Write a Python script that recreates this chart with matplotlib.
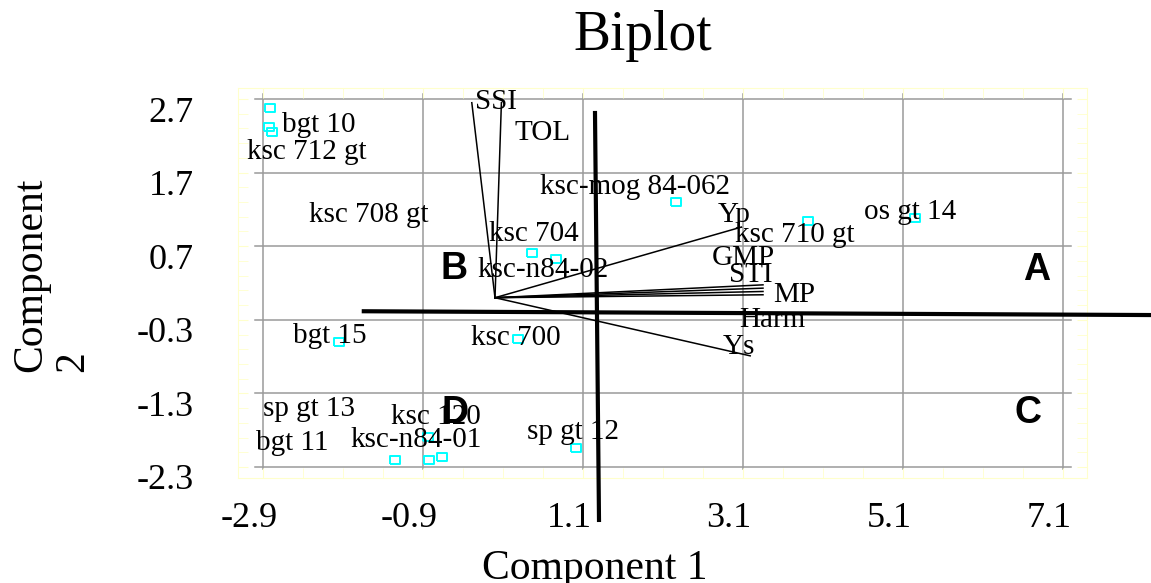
import matplotlib
matplotlib.use("Agg")
import matplotlib.pyplot as plt
import matplotlib.transforms as mtransforms
from matplotlib.ticker import MultipleLocator

plt.rcParams['font.family'] = ['Liberation Serif', 'DejaVu Serif']

# genotype scores (cyan squares)
score_x = [-2.81, -2.825, -2.79, 2.26, 3.91, 5.25, 0.46, 0.76, 0.29, -1.95, -1.25, -0.83, -0.66, -0.84, 1.01]
score_y = [2.58, 2.32, 2.25, 1.30, 1.04, 1.08, 0.61, 0.52, -0.56, -0.60, -2.20, -2.20, -2.17, -1.89, -2.04]

# genotype names and where their text sits
genotypes = ["bgt 10", "ksc 712 gt", "ksc 708 gt", "ksc-mog 84-062", "ksc 704", "ksc-n84-02",
             "ksc 710 gt", "os gt 14", "bgt 15", "ksc 700", "sp gt 13", "ksc 120",
             "ksc-n84-01", "bgt 11", "sp gt 12"]
geno_tx = [-2.66, -3.10, -2.325, 0.56, -0.075, -0.225, 3.0, 4.61, -2.525, -0.30, -2.90, -1.30, -1.81, -2.99, 0.40]
geno_ty = [2.35, 1.98, 1.12, 1.50, 0.86, 0.37, 0.85, 1.16, -0.52, -0.545, -1.51, -1.62, -1.93, -1.97, -1.82]

# index loadings (vectors from origin)
indices = ["SSI", "TOL", "Yp", "GMP", "STI", "MP", "Harm", "Ys"]
vec_x = [-0.29, 0.08, 3.08, 3.35, 3.35, 3.35, 3.35, 3.19]
vec_y = [2.65, 2.65, 0.96, 0.175, 0.13, 0.085, 0.04, -0.79]
idx_tx = [-0.25, 0.25, 2.79, 2.71, 2.925, 3.475, 3.05, 2.85]
idx_ty = [2.66, 2.24, 1.12, 0.54, 0.31, 0.04, -0.30, -0.67]

# quadrant letters
quadrants = ["A", "B", "C", "D"]
quad_x = [6.775, -0.51, 6.66, -0.50]
quad_y = [0.38, 0.39, -1.56, -1.57]

# rotated reference axes
ref_h_x = [-1.64, 8.3]
ref_h_y = [-0.184, -0.236]
ref_v_x = [1.25, 1.30]
ref_v_y = [2.51, -3.02]

xticks = [-2.9, -0.9, 1.1, 3.1, 5.1, 7.1]
xtick_labels = ["-2.9", "-0.9", "1.1", "3.1", "5.1", "7.1"]
yticks = [2.7, 1.7, 0.7, -0.3, -1.3, -2.3]
ytick_labels = ["2.7", "1.7", "0.7", "-0.3", "-1.3", "-2.3"]

W, H = 1151, 583
fig = plt.figure(figsize=(W / 100, H / 100), dpi=100)
ax = fig.add_axes([238 / W, 1 - 478 / H, (1087 - 238) / W, (478 - 88) / H])
ax.set_xlim(-3.2125, 7.4)
ax.set_ylim(-2.45, 2.85)

# grid
for gx in xticks:
    ax.plot([gx, gx], [-2.33, 2.77], color="#9a9a9a", lw=1.1, zorder=1)
for gy in yticks:
    ax.plot([-3.0, 7.2], [gy, gy], color="#9a9a9a", lw=1.1, zorder=1)

# frame and ticks
for sp in ax.spines.values():
    sp.set_color("#ffffcc")
ax.xaxis.set_minor_locator(MultipleLocator(0.5, offset=0.1))
ax.yaxis.set_minor_locator(MultipleLocator(0.2, offset=0.1))
ax.set_xticks(xticks, labels=xtick_labels)
ax.set_yticks(yticks, labels=ytick_labels)
ax.tick_params(which="both", direction="in", top=True, right=True, color="#ffffcc", length=7)
ax.tick_params(axis="x", labelsize=26, pad=17)
ax.tick_params(axis="y", labelsize=26, pad=32)

dx = mtransforms.ScaledTranslation(-14 / 100, 0, fig.dpi_scale_trans)
for lab in ax.get_xticklabels():
    lab.set_transform(lab.get_transform() + dx)
dy = mtransforms.ScaledTranslation(0, -10 / 100, fig.dpi_scale_trans)
for lab in ax.get_yticklabels():
    lab.set_transform(lab.get_transform() + dy)

# reference axes
ax.plot(ref_h_x, ref_h_y, color="black", lw=3, clip_on=False, zorder=3)
ax.plot(ref_v_x, ref_v_y, color="black", lw=3, clip_on=False, zorder=3)

# vectors
for vx, vy in zip(vec_x, vec_y):
    ax.plot([0, vx], [0, vy], color="black", lw=1.1, zorder=4)
for name, tx, ty in zip(indices, idx_tx, idx_ty):
    ax.text(tx, ty, name, fontsize=21, ha="left", va="center", zorder=5)

# genotypes
box = [(-1.2, -1), (1.2, -1), (1.2, 1), (-1.2, 1), (-1.2, -1)]
ax.plot(score_x, score_y, linestyle="none", marker=box, markersize=6.5,
        mfc="none", mec="#00ffff", mew=1.4, zorder=4)
for name, tx, ty in zip(genotypes, geno_tx, geno_ty):
    ax.text(tx, ty, name, fontsize=21, ha="left", va="center", zorder=5)

for q, qx, qy in zip(quadrants, quad_x, quad_y):
    ax.text(qx, qy, q, fontsize=27, fontweight="bold", family="Liberation Sans",
            ha="center", va="center", zorder=5)

# titles
fig.text(643 / W, 1 - 50 / H, "Biplot", fontsize=40, ha="center", va="baseline")
fig.text(595 / W, 1 - 579 / H, "Component 1", fontsize=30, ha="center", va="baseline")
fig.text(52 / W, 1 - 275 / H, "Component\n2", fontsize=30, rotation=90,
         ha="center", va="center", multialignment="left", linespacing=1.1)

fig.savefig("out.png", dpi=100)
